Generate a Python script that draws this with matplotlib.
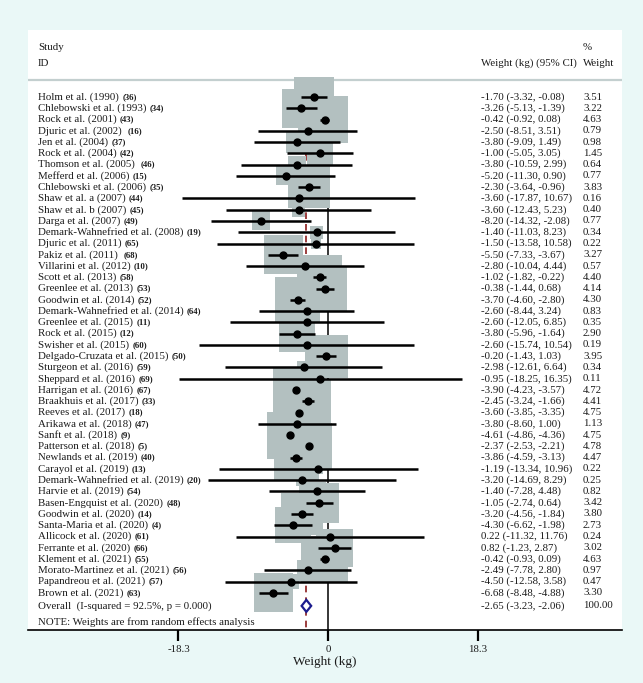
import matplotlib
matplotlib.use("Agg")
import matplotlib.pyplot as plt
from matplotlib.patches import Rectangle, Polygon

# study data
studies = ["Holm et al. (1990)", "Chlebowski et al. (1993)", "Rock et al. (2001)",
           "Djuric et al. (2002) ", "Jen et al. (2004)", "Rock et al. (2004)",
           "Thomson et al. (2005) ", "Mefferd et al. (2006)", "Chlebowski et al. (2006)",
           "Shaw et al. a (2007)", "Shaw et al. b (2007)", "Darga et al. (2007)",
           "Demark-Wahnefried et al. (2008)", "Djuric et al. (2011)", "Pakiz et al. (2011) ",
           "Villarini et al. (2012)", "Scott et al. (2013)", "Greenlee et al. (2013)",
           "Goodwin et al. (2014)", "Demark-Wahnefried et al. (2014)", "Greenlee et al. (2015)",
           "Rock et al. (2015)", "Swisher et al. (2015)", "Delgado-Cruzata et al. (2015)",
           "Sturgeon et al. (2016)", "Sheppard et al. (2016)", "Harrigan et al. (2016)",
           "Braakhuis et al. (2017)", "Reeves et al. (2017)", "Arikawa et al. (2018)",
           "Sanft et al. (2018)", "Patterson et al. (2018)", "Newlands et al. (2019)",
           "Carayol et al. (2019)", "Demark-Wahnefried et al. (2019)", "Harvie et al. (2019)",
           "Basen-Engquist et al. (2020)", "Goodwin et al. (2020)", "Santa-Maria et al. (2020)",
           "Allicock et al. (2020)", "Ferrante et al. (2020)", "Klement et al. (2021)",
           "Morato-Martinez et al. (2021)", "Papandreou et al. (2021)", "Brown et al. (2021)"]
refs = [36, 34, 43, 16, 37, 42, 46, 15, 35, 44, 45, 49, 19, 65, 68, 10, 58, 53, 52, 64,
        11, 12, 60, 50, 59, 69, 67, 33, 18, 47, 9, 5, 40, 13, 20, 54, 48, 14, 4, 61,
        66, 55, 56, 57, 63]
est = [-1.70, -3.26, -0.42, -2.50, -3.80, -1.00, -3.80, -5.20, -2.30, -3.60, -3.60, -8.20,
       -1.40, -1.50, -5.50, -2.80, -1.02, -0.38, -3.70, -2.60, -2.60, -3.80, -2.60, -0.20,
       -2.98, -0.95, -3.90, -2.45, -3.60, -3.80, -4.61, -2.37, -3.86, -1.19, -3.20, -1.40,
       -1.05, -3.20, -4.30, 0.22, 0.82, -0.42, -2.49, -4.50, -6.68]
lo = [-3.32, -5.13, -0.92, -8.51, -9.09, -5.05, -10.59, -11.30, -3.64, -17.87, -12.43, -14.32,
      -11.03, -13.58, -7.33, -10.04, -1.82, -1.44, -4.60, -8.44, -12.05, -5.96, -15.74, -1.43,
      -12.61, -18.25, -4.23, -3.24, -3.85, -8.60, -4.86, -2.53, -4.59, -13.34, -14.69, -7.28,
      -2.74, -4.56, -6.62, -11.32, -1.23, -0.93, -7.78, -12.58, -8.48]
hi = [-0.08, -1.39, 0.08, 3.51, 1.49, 3.05, 2.99, 0.90, -0.96, 10.67, 5.23, -2.08,
      8.23, 10.58, -3.67, 4.44, -0.22, 0.68, -2.80, 3.24, 6.85, -1.64, 10.54, 1.03,
      6.64, 16.35, -3.57, -1.66, -3.35, 1.00, -4.36, -2.21, -3.13, 10.96, 8.29, 4.48,
      0.64, -1.84, -1.98, 11.76, 2.87, 0.09, 2.80, 3.58, -4.88]
weights = [3.51, 3.22, 4.63, 0.79, 0.98, 1.45, 0.64, 0.77, 3.83, 0.16, 0.40, 0.77,
           0.34, 0.22, 3.27, 0.57, 4.40, 4.14, 4.30, 0.83, 0.35, 2.90, 0.19, 3.95,
           0.34, 0.11, 4.72, 4.41, 4.75, 1.13, 4.75, 4.78, 4.47, 0.22, 0.25, 0.82,
           3.42, 3.80, 2.73, 0.24, 3.02, 4.63, 0.97, 0.47, 3.30]
ov_est, ov_lo, ov_hi = -2.65, -3.23, -2.06
overall_label = "Overall  (I-squared = 92.5%, p = 0.000)"
ticks = [-18.3, 0, 18.3]

W, H = 643, 683
bg = "#eaf8f7"
box_col = "#b3c0c0"
txt = "#1a1a1a"
serif = "Liberation Serif"

fig = plt.figure(figsize=(W / 100, H / 100), dpi=100, facecolor=bg)
# panel in pixels: x 28..622, y 30..630
ax = fig.add_axes([28 / W, (H - 630) / H, 594 / W, 600 / H])
ax.set_facecolor("white")

x0px, ppu = 328, 8.17  # pixel of zero, pixels per kg
ax.set_xlim((28 - x0px) / ppu, (622 - x0px) / ppu)
ax.set_ylim(630, 30)


def px(xp):
    return (xp - x0px) / ppu


row0, step = 97, 11.27
ys = [row0 + i * step for i in range(len(studies))]
y_all = ys[-1] + 13

# reference lines behind the boxes
ax.plot([0, 0], [84, 630], color="black", lw=1.1, zorder=1)
ax.plot([ov_est] * 2, [84, 630], color="#8b1c1c", lw=1.2,
        dashes=(4, 3), zorder=1)

k = 21.6  # box side in px per sqrt(weight)
for y, e, w in zip(ys, est, weights):
    s = k * w ** 0.5
    ax.add_patch(Rectangle((e - s / 2 / ppu, y - s / 2), s / ppu, s,
                           facecolor=box_col, edgecolor="none", zorder=2))
for y, e, l, h in zip(ys, est, lo, hi):
    ax.plot([l, h], [y, y], color="black", lw=1.8, solid_capstyle="butt", zorder=3)
    ax.plot(e, y, "o", color="black", ms=5, zorder=4)

# overall diamond
ax.add_patch(Polygon([(ov_lo, y_all), (ov_est, y_all - 6), (ov_hi, y_all), (ov_est, y_all + 6)],
                     closed=True, facecolor="white", edgecolor="#1c1c8e",
                     lw=1.6, zorder=5))

# text columns
fs = 7.8
for y, name, r, e, l, h, w in zip(ys, studies, refs, est, lo, hi, weights):
    t = ax.text(px(38), y, name, fontsize=fs, family=serif, color=txt, va="center")
    ax.annotate(f"({r})", xy=(1, 0.5), xycoords=t, xytext=(2.5, 0),
                textcoords="offset points", fontsize=6.3, family=serif,
                weight="bold", color=txt, va="center")
    ax.text(px(481), y, f"{e:.2f} ({l:.2f}, {h:.2f})", fontsize=fs, family=serif,
            color=txt, va="center")
    ax.text(px(583), y, f"{w:.2f}", fontsize=fs, family=serif, color=txt, va="center")

ax.text(px(38), y_all, overall_label, fontsize=fs, family=serif, color=txt, va="center")
ax.text(px(481), y_all, f"{ov_est:.2f} ({ov_lo:.2f}, {ov_hi:.2f})", fontsize=fs,
        family=serif, color=txt, va="center")
ax.text(px(583), y_all, "100.00", fontsize=fs, family=serif, color=txt, va="center")
ax.text(px(38), 622, "NOTE: Weights are from random effects analysis", fontsize=fs,
        family=serif, color=txt, va="center")

# header
ax.text(px(38), 47, "Study", fontsize=fs, family=serif, color=txt, va="center")
ax.text(px(38), 63, "ID", fontsize=fs, family=serif, color=txt, va="center")
ax.text(px(481), 63, "Weight (kg) (95% CI)", fontsize=fs, family=serif, color=txt, va="center")
ax.text(px(583), 47, "%", fontsize=fs, family=serif, color=txt, va="center")
ax.text(px(583), 63, "Weight", fontsize=fs, family=serif, color=txt, va="center")
ax.axhline(80, color="#c3cfcf", lw=1.6, zorder=1)

# axis
for sp in ["top", "left", "right"]:
    ax.spines[sp].set_visible(False)
ax.spines["bottom"].set_linewidth(1.2)
ax.set_yticks([])
ax.set_xticks(ticks)
ax.set_xticklabels(["-18.3", "0", "18.3"], family=serif, fontsize=7.8, color=txt)
ax.tick_params(axis="x", length=8, width=1.6, pad=3)
ax.set_xlabel("Weight (kg)", family=serif, fontsize=9.5, color=txt, labelpad=1)

fig.savefig("out.png", dpi=100, facecolor=bg)
